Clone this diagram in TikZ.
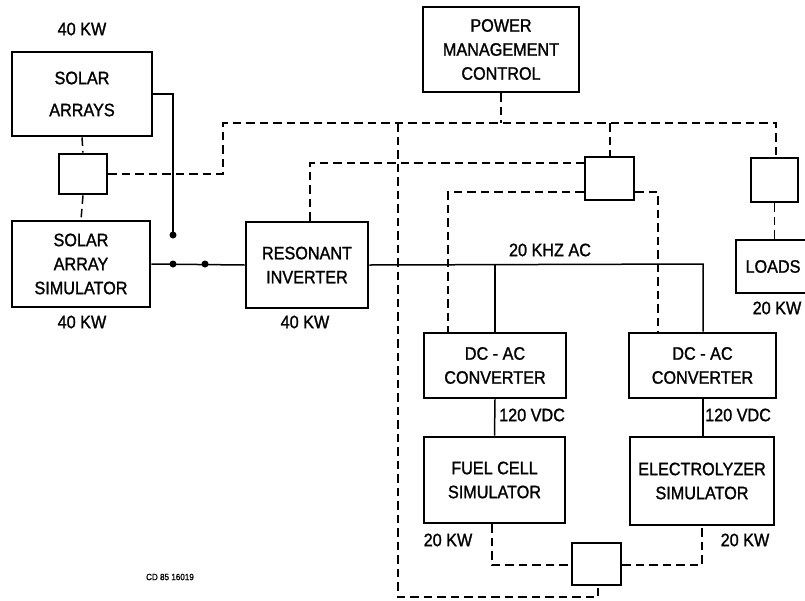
\documentclass[tikz,border=0pt]{standalone}
\usepackage{fontspec}
\setmainfont[FakeStretch=0.9,FakeBold=1.3]{Liberation Sans}
\begin{document}
\begin{tikzpicture}[x=1pt,y=-1pt,
  box/.style={draw,line width=2.7pt,align=center,inner sep=0pt,
    font=\fontsize{18}{24}\selectfont},
  sbox/.style={draw,line width=2.7pt,inner sep=0pt},
  lbl/.style={font=\fontsize{18}{24}\selectfont,inner sep=0pt},
  wire/.style={line width=1.5pt},
  ctl/.style={line width=1.5pt,dash pattern=on 8.5pt off 5pt},
  dot/.style={circle,fill=black,inner sep=0pt,minimum size=7pt}]
\useasboundingbox (0,0) rectangle (805,600);
% boxes
\node[box,minimum width=140pt,minimum height=84pt] (sa) at (82,94) {SOLAR\\[8pt]ARRAYS};
\node[sbox,minimum width=48pt,minimum height=40pt] (sbA) at (83,174) {};
\node[box,minimum width=138pt,minimum height=86pt] (sas) at (81,264) {SOLAR\\ARRAY\\SIMULATOR};
\node[box,minimum width=122pt,minimum height=86pt] (ri) at (307,265) {RESONANT\\INVERTER};
\node[box,minimum width=156pt,minimum height=85pt] (pmc) at (501,49.5) {POWER\\MANAGEMENT\\CONTROL};
\node[sbox,minimum width=49pt,minimum height=43pt] (sbB) at (609.5,178.5) {};
\node[sbox,minimum width=47pt,minimum height=44pt] (sbD) at (774.5,180) {};
\node[box,minimum width=74pt,minimum height=53pt] (loads) at (773,266.5) {LOADS};
\node[box,minimum width=142pt,minimum height=65pt] (conv1) at (495,365.5) {DC - AC\\CONVERTER};
\node[box,minimum width=147pt,minimum height=65pt] (conv2) at (702.5,365.5) {DC - AC\\CONVERTER};
\node[box,minimum width=141pt,minimum height=86pt] (fc) at (494.5,480) {FUEL CELL\\SIMULATOR};
\node[box,minimum width=144pt,minimum height=88pt] (el) at (702,481) {ELECTROLYZER\\SIMULATOR};
\node[sbox,minimum width=49pt,minimum height=42pt] (sbC) at (596.5,564) {};
% labels
\node[lbl] (l1) at (82,29) {40 KW};
\node[lbl] (l2) at (82,322) {40 KW};
\node[lbl] (l3) at (305,322) {40 KW};
\node[lbl] (l4) at (550,250) {20 KHZ AC};
\node[lbl,anchor=west] (l5) at (499,415) {120 VDC};
\node[lbl,anchor=west] (l6) at (705,415) {120 VDC};
\node[lbl] (l7) at (448,540) {20 KW};
\node[lbl] (l8) at (745,540) {20 KW};
\node[lbl] (l9) at (777,308) {20 KW};
\node[font=\fontsize{9}{10}\selectfont,inner sep=0pt] (cd) at (170,577) {CD 85 16019};
% solid wiring
\coordinate (j0) at (173,235);
\coordinate (j1) at (173,264);
\coordinate (j2) at (205,264);
\coordinate (b1) at (495,264);
\coordinate (b2) at (703,264);
\draw[wire] (sa.east) -| (j0);
\draw[wire] (sas.east) -- (ri.west);
\node[dot] (d0) at (j0) {};
\node[dot] (d1) at (j1) {};
\node[dot] (d2) at (j2) {};
\draw[wire] (ri.east) -- (b2) -- (b2 |- conv2.north);
\draw[wire] (b1) -- (b1 |- conv1.north);
\draw[wire] (conv1.south) -- (fc.north);
\draw[wire] (703,0 |- conv2.south) -- (703,0 |- el.north);
% control (dashed)
\coordinate (c1) at (223,174);
\coordinate (c2) at (223,123);
\coordinate (c3) at (776,123);
\coordinate (c4) at (398,123);
\coordinate (c5) at (398,597);
\coordinate (c6) at (598,597);
\coordinate (c7) at (610,123);
\coordinate (c8) at (310,163);
\coordinate (c9) at (448,192);
\coordinate (c10) at (658,192);
\coordinate (c11) at (492,565);
\coordinate (c12) at (702,565);
\draw[ctl] (sa.south) -- (sbA.north);
\draw[ctl] (sbA.south) -- (sas.north);
\draw[ctl] (sbA.east) -- (c1) -- (c2) -- (c3) -- (c3 |- sbD.north);
\draw[ctl] (pmc.south) -- (pmc.south |- c2);
\draw[ctl] (c4) -- (c5) -- (c6) -- (c6 |- sbC.south);
\draw[ctl] (c7) -- (c7 |- sbB.north);
\draw[ctl] (c8 |- ri.north) -- (c8) -- (c8 -| sbB.west);
\draw[ctl] (c9 -| sbB.west) -- (c9) -- (c9 |- conv1.north);
\draw[ctl] (c10 -| sbB.east) -- (c10) -- (c10 |- conv2.north);
\draw[ctl] (sbD.south) -- (sbD.south |- loads.north);
\draw[ctl] (c11 |- fc.south) -- (c11) -- (c11 -| sbC.west);
\draw[ctl] (c12 -| sbC.east) -- (c12) -- (c12 |- el.south);
\end{tikzpicture}
\end{document}
